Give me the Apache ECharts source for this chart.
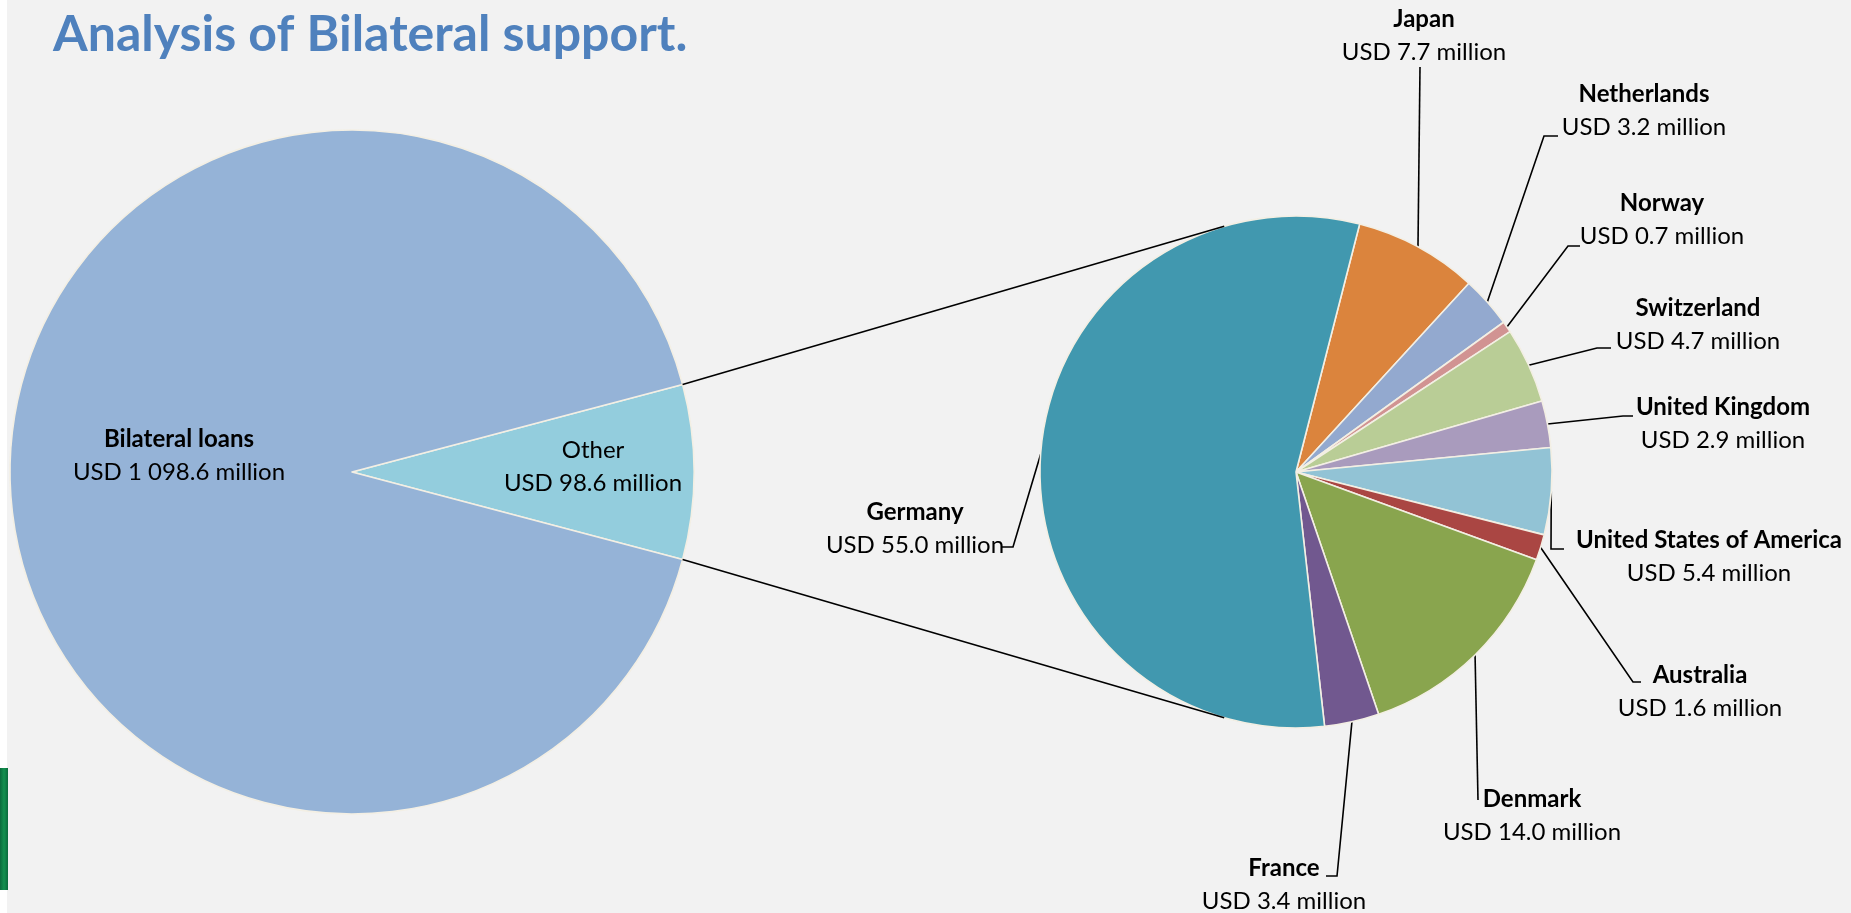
<!DOCTYPE html>
<html>
<head>
<meta charset="utf-8">
<script src="https://cdn.jsdelivr.net/npm/echarts@6/dist/echarts.min.js"></script>
<style>
html,body{margin:0;padding:0;background:#f2f2f2;}
#main{width:1851px;height:913px;}
</style>
</head>
<body>
<div id="main"></div>
<script>
// ---------------- data ----------------
const chartTitle = 'Analysis of Bilateral support.';
const overviewCategories = ['Other', 'Bilateral loans'];
const overviewValues = [98.6, 1098.6];
const donorCategories = ['Japan', 'Netherlands', 'Norway', 'Switzerland', 'United Kingdom',
  'United States of America', 'Australia', 'Denmark', 'France', 'Germany'];
const donorValues = [7.7, 3.2, 0.7, 4.7, 2.9, 5.4, 1.6, 14.0, 3.4, 55.0];

// ---------------- layout & style ----------------
const FONT = 'Lato, "Open Sans", sans-serif';
const leftPie = { cx: 352, cy: 472, r: 342 };
const rightPie = { cx: 1296, cy: 472, r: 256 };
const rightStartAngle = 75.6;
const overviewColors = ['#93CDDD', '#95B3D7'];
const donorColors = ['#DB843D', '#93A9CF', '#D19392', '#B9CD96', '#A99BBD',
  '#92C3D5', '#AA4643', '#89A54E', '#71588F', '#4198AF'];
// label anchor (block centre) and leader elbow/end points, in page pixels
const donorLabelSpots = [
  { x: 1424, y: 36,  ex: 1420, ey: 67,  tx: 1420, ty: 67 },
  { x: 1644, y: 111, ex: 1544, ey: 136, tx: 1558, ty: 136 },
  { x: 1662, y: 220, ex: 1568, ey: 246, tx: 1580, ty: 246 },
  { x: 1698, y: 325, ex: 1597, ey: 348, tx: 1611, ty: 348 },
  { x: 1723, y: 424, ex: 1623, ey: 416, tx: 1633, ty: 416 },
  { x: 1709, y: 557, ex: 1551, ey: 549, tx: 1564, ty: 549 },
  { x: 1700, y: 692, ex: 1633, ey: 682, tx: 1641, ty: 682 },
  { x: 1532, y: 816, ex: 1478, ey: 800, tx: 1478, ty: 800 },
  { x: 1284, y: 885, ex: 1337, ey: 876, tx: 1326, ty: 876 },
  { x: 915,  y: 529, ex: 1013, ey: 547, tx: 1001, ty: 547 }
];
const overviewLabelSpots = [ { x: 593, y: 467 }, { x: 179, y: 456 } ];

function fmt(v) {
  const parts = v.toFixed(1).split('.');
  return parts[0].replace(/\B(?=(\d{3})+(?!\d))/g, ' ') + '.' + parts[1];
}

// geometry derived from data
const overviewTotal = overviewValues.reduce((a, b) => a + b, 0);
const otherSweep = overviewValues[0] / overviewTotal * 360;
const leftStartAngle = otherSweep / 2;

const donorTotal = donorValues.reduce((a, b) => a + b, 0);
const donorMid = [];
(function () {
  let cum = 0;
  donorValues.forEach(v => {
    donorMid.push((rightStartAngle - (cum + v / 2) / donorTotal * 360) * Math.PI / 180);
    cum += v;
  });
})();

function connector(sign) {
  const a = sign * otherSweep / 2 * Math.PI / 180;
  const px = leftPie.cx + leftPie.r * Math.cos(a);
  const py = leftPie.cy - leftPie.r * Math.sin(a);
  const dx = rightPie.cx - px, dy = rightPie.cy - py;
  const d = Math.sqrt(dx * dx + dy * dy);
  const theta = Math.atan2(dy, dx);
  const alpha = Math.asin(rightPie.r / d);
  const L = Math.sqrt(d * d - rightPie.r * rightPie.r);
  const dir = sign > 0 ? theta - alpha : theta + alpha;
  return { x1: px, y1: py, x2: px + L * Math.cos(dir), y2: py + L * Math.sin(dir) };
}

const chart = echarts.init(document.getElementById('main'), null, { renderer: 'canvas' });

const LABEL_SIZE = 24;
const richStyles = {
  b: { fontFamily: FONT, fontSize: LABEL_SIZE, fontWeight: 'bold', color: '#000', lineHeight: 33, align: 'center' },
  n: { fontFamily: FONT, fontSize: LABEL_SIZE, color: '#000', lineHeight: 33, align: 'center' },
  v: { fontFamily: FONT, fontSize: LABEL_SIZE, color: '#000', lineHeight: 33, align: 'center' }
};

const option = {
  backgroundColor: '#F2F2F2',
  animation: false,
  title: {
    text: chartTitle,
    left: 48,
    top: 5,
    textStyle: { fontFamily: FONT, fontSize: 50, fontWeight: 'bold', color: '#4F81BD' }
  },
  graphic: [
    { type: 'rect', shape: { x: 0, y: 0, width: 7, height: 913 }, style: { fill: '#FFFFFF' }, silent: true },
    { type: 'rect', shape: { x: 0, y: 768, width: 8, height: 122 },
      style: { fill: new echarts.graphic.LinearGradient(0, 0, 1, 0, [
        { offset: 0, color: '#0A6B3C' }, { offset: 0.5, color: '#13914F' }, { offset: 1, color: '#0A6B3C' }]) },
      silent: true },
    (function () { const c = connector(1); return { type: 'line', shape: c, style: { stroke: '#000', lineWidth: 1.7 }, silent: true, z: 10 }; })(),
    (function () { const c = connector(-1); return { type: 'line', shape: c, style: { stroke: '#000', lineWidth: 1.7 }, silent: true, z: 10 }; })()
  ],
  series: [
    {
      type: 'pie',
      center: [leftPie.cx, leftPie.cy],
      radius: [0, leftPie.r],
      startAngle: leftStartAngle,
      clockwise: true,
      avoidLabelOverlap: false,
      itemStyle: { borderColor: '#F3EFE4', borderWidth: 1.6 },
      label: {
        show: true,
        position: 'inside',
        formatter: p => (p.dataIndex === 1 ? `{b|${p.name}}` : `{n|${p.name}}`) + `\n{v|USD ${fmt(p.value)} million}`,
        rich: richStyles
      },
      labelLine: { show: false },
      labelLayout: p => ({ x: overviewLabelSpots[p.dataIndex].x, y: overviewLabelSpots[p.dataIndex].y, align: 'center', verticalAlign: 'middle' }),
      emphasis: { disabled: true },
      data: overviewCategories.map((c, i) => ({ name: c, value: overviewValues[i], itemStyle: { color: overviewColors[i] } }))
    },
    {
      type: 'pie',
      center: [rightPie.cx, rightPie.cy],
      radius: [0, rightPie.r],
      startAngle: rightStartAngle,
      clockwise: true,
      avoidLabelOverlap: false,
      itemStyle: { borderColor: '#F3EFE4', borderWidth: 1.6 },
      label: {
        show: true,
        position: 'outside',
        formatter: p => `{b|${p.name}}\n{v|USD ${fmt(p.value)} million}`,
        rich: richStyles
      },
      labelLine: { show: true, lineStyle: { color: '#000', width: 1.6 } },
      labelLayout: function (p) {
        const i = p.dataIndex;
        const s = donorLabelSpots[i];
        const a = donorMid[i];
        const ex = rightPie.cx + rightPie.r * Math.cos(a);
        const ey = rightPie.cy - rightPie.r * Math.sin(a);
        return { x: s.x, y: s.y, align: 'center', verticalAlign: 'middle',
          labelLinePoints: [[ex, ey], [s.ex, s.ey], [s.tx, s.ty]] };
      },
      emphasis: { disabled: true },
      data: donorCategories.map((c, i) => ({ name: c, value: donorValues[i], itemStyle: { color: donorColors[i] } }))
    }
  ]
};
chart.setOption(option);
</script>
</body>
</html>
